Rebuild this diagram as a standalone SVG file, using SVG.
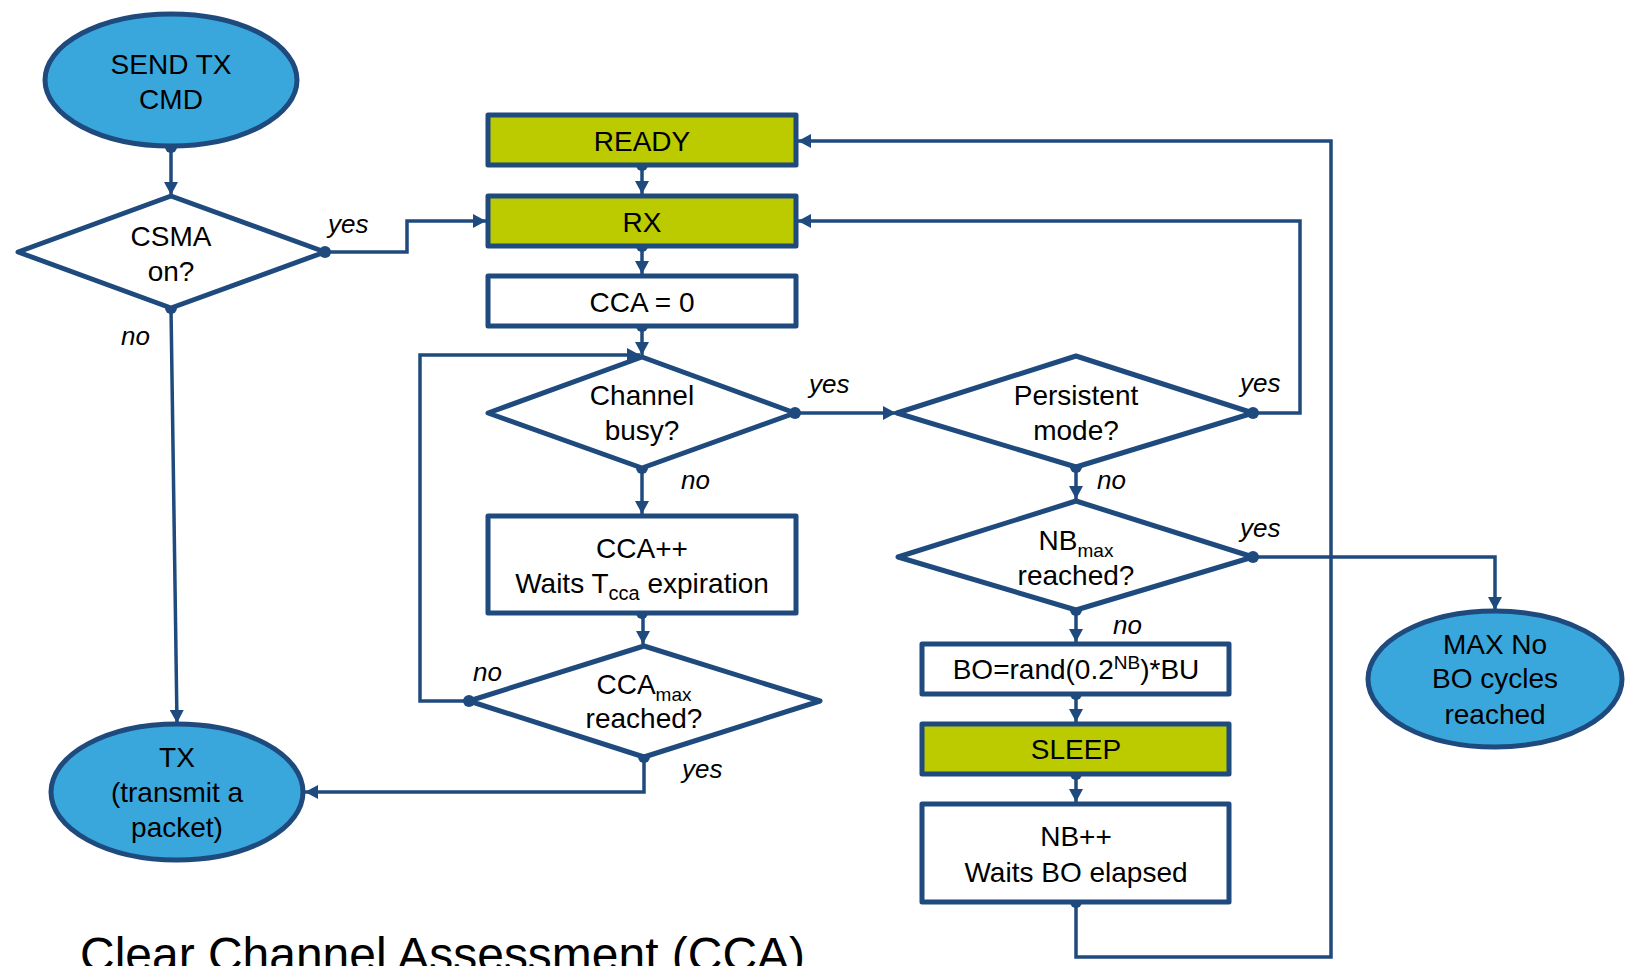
<svg xmlns="http://www.w3.org/2000/svg" width="1633" height="966" viewBox="0 0 1633 966">
<defs>
<marker id="ah" markerUnits="userSpaceOnUse" markerWidth="14" markerHeight="14" viewBox="0 0 14 14" refX="13" refY="7" orient="auto">
<path d="M0,0 L13,7 L0,14 Z" fill="#1F4A7E"/>
</marker>
<style>
.n{stroke:#1F4A7E;stroke-width:5;stroke-linejoin:round}
.el{fill:#3AA7DC}
.gr{fill:#BBCB00}
.wh{fill:#FFFFFF}
.t{font-family:"Liberation Sans",Arial,sans-serif;font-size:28px;fill:#000;text-anchor:middle}
.lb{font-family:"Liberation Sans",Arial,sans-serif;font-size:26px;font-style:italic;fill:#000}
.c{fill:none;stroke:#1F4A7E;stroke-width:3.5}
.ca{fill:none;stroke:#1F4A7E;stroke-width:3.5;marker-end:url(#ah)}
.d{fill:#1F4A7E}
.title{font-family:"Liberation Sans",Arial,sans-serif;font-size:48px;fill:#000}
</style>
</defs>
<rect width="1633" height="966" fill="#FFFFFF"/>

<g id="connectors">
<path class="ca" d="M171,147 V195"/>
<path class="ca" d="M325,252 H407 V221 H486"/>
<path class="ca" d="M171,308 L177,723"/>
<path class="ca" d="M642,165 V194"/>
<path class="ca" d="M642,246 V274"/>
<path class="ca" d="M642,326 V355"/>
<path class="ca" d="M795,413 H896"/>
<path class="ca" d="M642,468 V514"/>
<path class="ca" d="M643,613 V644"/>
<path class="ca" d="M469,701 H420 V355 H640"/>
<path class="ca" d="M644,757 V792 H305"/>
<path class="ca" d="M1253,413 H1300 V221 H798"/>
<path class="ca" d="M1076,467 V499"/>
<path class="ca" d="M1253,557 H1495 V610"/>
<path class="ca" d="M1076,610 V642"/>
<path class="ca" d="M1076,694 V722"/>
<path class="ca" d="M1076,774 V802"/>
<path class="ca" d="M1076,902 V957 H1331 V141 H798"/>
<circle class="d" cx="171" cy="147" r="6"/>
<circle class="d" cx="325" cy="252" r="6"/>
<circle class="d" cx="171" cy="308" r="6"/>
<circle class="d" cx="642" cy="165" r="6"/>
<circle class="d" cx="642" cy="246" r="6"/>
<circle class="d" cx="642" cy="326" r="6"/>
<circle class="d" cx="795" cy="413" r="6"/>
<circle class="d" cx="642" cy="468" r="6"/>
<circle class="d" cx="642" cy="613" r="6"/>
<circle class="d" cx="469" cy="701" r="6"/>
<circle class="d" cx="644" cy="757" r="6"/>
<circle class="d" cx="1253" cy="413" r="6"/>
<circle class="d" cx="1076" cy="467" r="6"/>
<circle class="d" cx="1253" cy="557" r="6"/>
<circle class="d" cx="1076" cy="610" r="6"/>
<circle class="d" cx="1076" cy="694" r="6"/>
<circle class="d" cx="1076" cy="774" r="6"/>
<circle class="d" cx="1076" cy="902" r="6"/>
<text class="lb" x="328" y="233">yes</text>
<text class="lb" x="121" y="345">no</text>
<text class="lb" x="809" y="393">yes</text>
<text class="lb" x="681" y="489">no</text>
<text class="lb" x="473" y="681">no</text>
<text class="lb" x="682" y="778">yes</text>
<text class="lb" x="1240" y="392">yes</text>
<text class="lb" x="1097" y="489">no</text>
<text class="lb" x="1240" y="537">yes</text>
<text class="lb" x="1113" y="634">no</text>
</g>

<g id="send">
<ellipse class="n el" cx="171" cy="80" rx="126" ry="66"/>
<text class="t" x="171" y="74">SEND TX</text>
<text class="t" x="171" y="109">CMD</text>
</g>

<g id="csma">
<polygon class="n wh" points="171,196 325,252 171,308 18,252"/>
<text class="t" x="171" y="246">CSMA</text>
<text class="t" x="171" y="281">on?</text>
</g>

<g id="tx">
<ellipse class="n el" cx="177" cy="792" rx="126" ry="68"/>
<text class="t" x="177" y="767">TX</text>
<text class="t" x="177" y="802">(transmit a</text>
<text class="t" x="177" y="837">packet)</text>
</g>

<g id="ready">
<rect class="n gr" x="488" y="115" width="308" height="50"/>
<text class="t" x="642" y="151">READY</text>
</g>

<g id="rx">
<rect class="n gr" x="488" y="196" width="308" height="50"/>
<text class="t" x="642" y="232">RX</text>
</g>

<g id="cca0">
<rect class="n wh" x="488" y="276" width="308" height="50"/>
<text class="t" x="642" y="312">CCA = 0</text>
</g>

<g id="busy">
<polygon class="n wh" points="642,357 795,413 642,468 488,413"/>
<text class="t" x="642" y="405">Channel</text>
<text class="t" x="642" y="440">busy?</text>
</g>

<g id="ccainc">
<rect class="n wh" x="488" y="516" width="308" height="97"/>
<text class="t" x="642" y="558">CCA++</text>
<text class="t" x="642" y="593">Waits T<tspan font-size="20" dy="7">cca</tspan><tspan dy="-7"> expiration</tspan></text>
</g>

<g id="ccamax">
<polygon class="n wh" points="644,646 820,701 644,757 469,701"/>
<text class="t" x="644" y="694">CCA<tspan font-size="19" dy="7">max</tspan></text>
<text class="t" x="644" y="728">reached?</text>
</g>

<g id="persistent">
<polygon class="n wh" points="1076,356 1253,413 1076,467 897,413"/>
<text class="t" x="1076" y="405">Persistent</text>
<text class="t" x="1076" y="440">mode?</text>
</g>

<g id="nbmax">
<polygon class="n wh" points="1076,501 1253,557 1076,610 898,557"/>
<text class="t" x="1076" y="550">NB<tspan font-size="19" dy="7">max</tspan></text>
<text class="t" x="1076" y="585">reached?</text>
</g>

<g id="bo">
<rect class="n wh" x="922" y="644" width="307" height="50"/>
<text class="t" x="1076" y="679">BO=rand(0.2<tspan font-size="19" dy="-10">NB</tspan><tspan dy="10">)*BU</tspan></text>
</g>

<g id="sleep">
<rect class="n gr" x="922" y="724" width="307" height="50"/>
<text class="t" x="1076" y="759">SLEEP</text>
</g>

<g id="nbinc">
<rect class="n wh" x="922" y="804" width="307" height="98"/>
<text class="t" x="1076" y="846">NB++</text>
<text class="t" x="1076" y="882">Waits BO elapsed</text>
</g>

<g id="maxno">
<ellipse class="n el" cx="1495" cy="679" rx="127" ry="68"/>
<text class="t" x="1495" y="654">MAX No</text>
<text class="t" x="1495" y="688">BO cycles</text>
<text class="t" x="1495" y="724">reached</text>
</g>

<g id="title">
<text class="title" x="80" y="971" textLength="725" lengthAdjust="spacingAndGlyphs">Clear Channel Assessment (CCA)</text>
</g>
</svg>
